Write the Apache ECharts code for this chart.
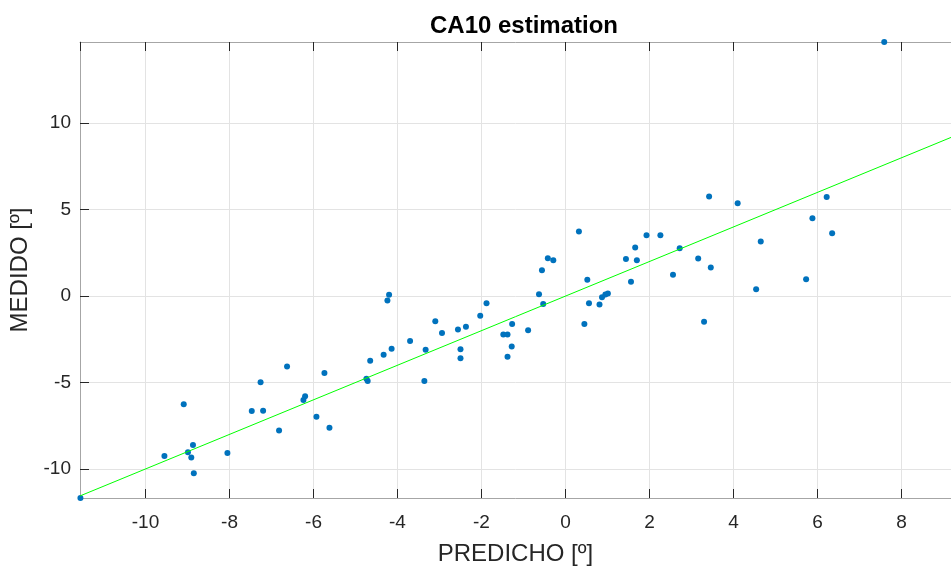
<!DOCTYPE html>
<html>
<head>
<meta charset="utf-8">
<script src="https://cdn.jsdelivr.net/npm/echarts@6/dist/echarts.min.js"></script>
<style>html,body{margin:0;padding:0;background:#fff;}#c{width:951px;height:572px;}</style>
</head>
<body>
<div id="c"></div>
<script>
const titleText = 'CA10 estimation';
const xName = 'PREDICHO [º]';
const yName = 'MEDIDO [º]';
const xLimits = [-11.56, 9.18];
const yLimits = [-11.68, 14.70];
const predicho = [7.59, 3.42, 4.10, 6.22, 5.88, 6.35, 4.65, 0.32, -0.42, -0.29, 1.93, 2.26, 1.66, 1.44, 1.70, 2.72, 3.16, 3.46, -0.56,
  0.52, 1.56, 2.56, 4.54, 5.73, -0.63, -0.53, 0.56, 0.81, 0.87, 0.95, 1.01, 0.45, 3.30, -1.27, -1.48, -1.38, -0.89, -1.28, -1.38,
  -11.55, -4.20, -4.24, -1.88, -2.03, -3.10, -2.94, -2.56, -2.37, -3.70, -3.33, -4.14, -4.33, -4.65, -4.74, -4.71, -3.36, -2.50, -2.50,
  -5.74, -6.63, -7.26, -7.47, -7.20, -6.20, -6.24, -5.93, -5.62, -6.82, -8.05, -9.09, -8.87, -8.99, -8.91, -8.85, -9.55];
const medido = [14.70, 5.76, 5.37, 5.74, 4.51, 3.64, 3.16, 3.74, 2.19, 2.08, 3.52, 3.52, 2.81, 2.14, 2.08, 2.77, 2.17, 1.65, 1.50,
  0.94, 0.83, 1.23, 0.40, 0.98, 0.11, -0.46, -0.41, -0.48, -0.06, 0.09, 0.15, -1.62, -1.49, -1.62, -2.22, -2.22, -1.97, -2.91, -3.51,
  -11.68, 0.08, -0.25, -0.41, -1.14, -1.45, -2.14, -1.93, -1.77, -2.60, -3.10, -3.05, -3.39, -3.74, -4.78, -4.91, -4.91, -3.08, -3.60,
  -4.45, -4.07, -4.99, -6.65, -6.63, -5.80, -6.01, -6.98, -7.61, -7.77, -9.08, -6.26, -8.61, -9.04, -9.33, -10.25, -9.25];
// identity reference line endpoints (y = x)
const refLine = [[-11.56, -11.56], [9.18, 9.18]];

const font = 'Liberation Sans, Arial, Helvetica, sans-serif';
const txt = '#262626';
const chart = echarts.init(document.getElementById('c'), null, {renderer: 'canvas'});
const pts = predicho.map((v, i) => [v, medido[i]]);
const baseAxisLine = {show: true, onZero: false, lineStyle: {color: '#a6a6a6', width: 1}};
chart.setOption({
  animation: false,
  backgroundColor: '#ffffff',
  title: {
    text: titleText, left: 519, top: 9, textAlign: 'center',
    textStyle: {fontFamily: font, fontSize: 24, fontWeight: 'bold', color: '#000'}
  },
  grid: {left: 80, right: 0, top: 42, bottom: 74, containLabel: false, outerBoundsMode: 'none'},
  xAxis: [{
    type: 'value', min: xLimits[0], max: xLimits[1], splitNumber: 10,
    name: xName, nameLocation: 'middle', nameGap: 44,
    nameTextStyle: {fontFamily: font, fontSize: 24, color: txt},
    axisLine: baseAxisLine,
    axisTick: {show: true, inside: true, length: 9, lineStyle: {color: txt}},
    axisLabel: {showMinLabel: false, showMaxLabel: false, fontFamily: font, fontSize: 19, color: txt, margin: 15},
    splitLine: {show: true, lineStyle: {color: '#e3e3e3', width: 1}}
  }, {
    type: 'value', position: 'top', min: xLimits[0], max: xLimits[1], splitNumber: 10,
    axisLine: baseAxisLine,
    axisTick: {show: true, inside: true, length: 9, lineStyle: {color: txt}},
    axisLabel: {show: false}, splitLine: {show: false}
  }],
  yAxis: [{
    type: 'value', min: yLimits[0], max: yLimits[1], splitNumber: 5,
    name: yName, nameLocation: 'middle', nameGap: 46, nameRotate: 90,
    nameTextStyle: {fontFamily: font, fontSize: 24, color: txt},
    axisLine: baseAxisLine,
    axisTick: {show: true, inside: true, length: 9, lineStyle: {color: txt}},
    axisLabel: {showMinLabel: false, showMaxLabel: false, fontFamily: font, fontSize: 19, color: txt, margin: 9},
    splitLine: {show: true, lineStyle: {color: '#e3e3e3', width: 1}}
  }],
  series: [{
    type: 'scatter', data: pts, symbolSize: 6, clip: false,
    itemStyle: {color: '#0072BD', opacity: 1}, z: 3
  }, {
    type: 'line', data: refLine, symbol: 'none', clip: false,
    lineStyle: {color: '#00ff00', width: 1}, z: 4
  }]
});
</script>
</body>
</html>
